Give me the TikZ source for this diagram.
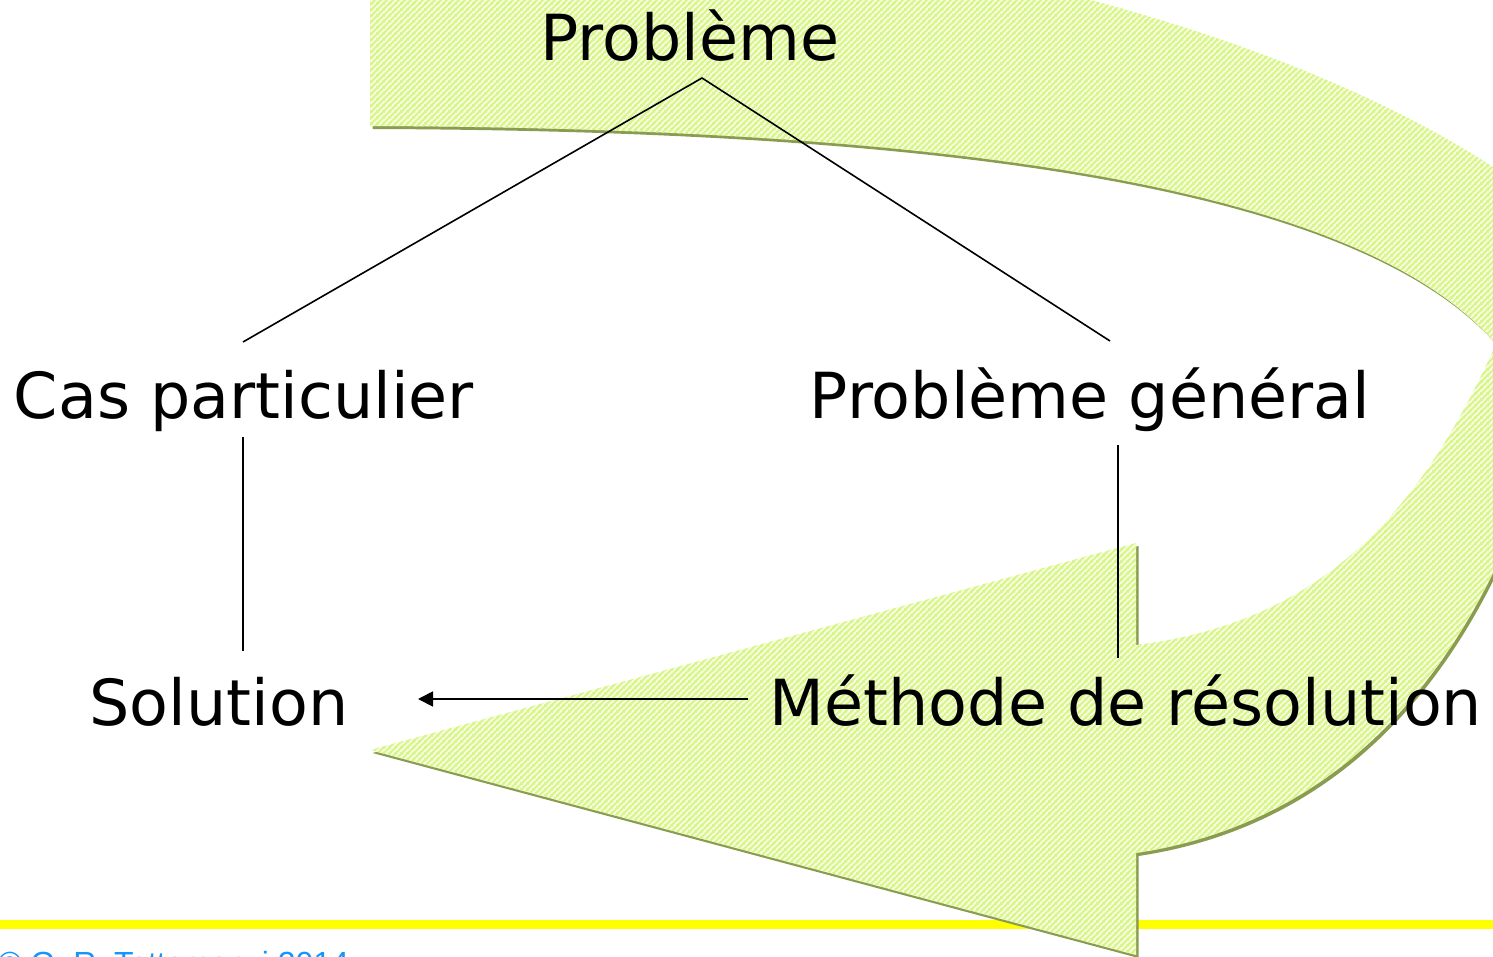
\documentclass[tikz,border=0pt]{standalone}
\usepackage{fontspec}
\setmainfont{DejaVu Sans}
\newfontfamily\copyfont{Liberation Sans}
\usetikzlibrary{patterns.meta,arrows.meta,calc}

\definecolor{stripe}{RGB}{216,245,135}
\definecolor{paleg}{RGB}{248,253,230}
\definecolor{shad}{RGB}{138,156,80}
\definecolor{rulecol}{rgb}{1,1,0}
\definecolor{cblue}{RGB}{20,150,255}

\tikzdeclarepattern{
  name=hatchNE,
  type=uncolored,
  bounding box={(0pt,0pt) and (6pt,6pt)},
  tile size={(6pt,6pt)},
  code={
    \draw[line width=2.1pt] (-1pt,-1pt) -- (7pt,7pt);
    \draw[line width=2.1pt] (-1pt,5pt) -- (1pt,7pt);
    \draw[line width=2.1pt] (5pt,-1pt) -- (7pt,1pt);
  }
}

\tikzset{
  lbl/.style={font=\fontsize{63.5}{76}\selectfont, inner sep=0pt, text=black},
  conn/.style={draw=black, line width=1.6pt},
  cpy/.style={font=\copyfont\fontsize{32}{38}\selectfont, inner sep=0pt, text=cblue},
}

\begin{document}
\begin{tikzpicture}[x=1pt,y=-1pt]
\useasboundingbox (0,0) rectangle (1493,957);
\clip (0,0) rectangle (1493,957);

% yellow rule
\path[fill=rulecol] (0,920) rectangle (1493,929);

% shadow of the curved arrow
\fill[shad, shift={(2.5,3)}]
  (370,-95) -- (370,126)
  .. controls (950,128) and (1360,185) .. (1496,344)
  .. controls (1428.5,494) and (1336,621) .. (1136,645)
  -- (1136,543) -- (370,750) -- (1136,955) -- (1136,853)
  .. controls (1336,823) and (1439,683) .. (1493,573)
  .. controls (1559,438) and (1619,249) .. (1493,167)
  .. controls (1193,-28) and (670,-95) .. (370,-95) -- cycle;

% curved arrow
\fill[paleg, postaction={pattern=hatchNE, pattern color=stripe}]
  (370,-95) -- (370,126)
  .. controls (950,128) and (1360,185) .. (1496,344)
  .. controls (1428.5,494) and (1336,621) .. (1136,645)
  -- (1136,543) -- (370,750) -- (1136,955) -- (1136,853)
  .. controls (1336,823) and (1439,683) .. (1493,573)
  .. controls (1559,438) and (1619,249) .. (1493,167)
  .. controls (1193,-28) and (670,-95) .. (370,-95) -- cycle;

% texts
\node[lbl, anchor=base] (prob) at (690,61) {Problème};
\node[lbl, anchor=base] (cas)  at (244,418) {Cas particulier};
\node[lbl, anchor=base] (gen)  at (1090,418) {Problème général};
\node[lbl, anchor=base] (sol)  at (219,725) {Solution};
\node[lbl, anchor=base] (meth) at (1126,725) {Méthode de résolution};
\node[cpy, anchor=base west] (copy) at (-2,974) {© G. R. Tattamanzi 2014};

% connector end points
\coordinate (probS) at (702,78);
\coordinate (casN)  at (243,342);
\coordinate (casS)  at (243,437);
\coordinate (genN)  at (1110,341);
\coordinate (genS)  at (1118,445);
\coordinate (solN)  at (243,651);
\coordinate (solE)  at (418,699);
\coordinate (methN) at (1118,658);
\coordinate (methW) at (748,699);

% connectors
\draw[conn] (casN) -- (probS) -- (genN);
\draw[conn] (casS) -- (solN);
\draw[conn] (genS) -- (methN);
\draw[conn, line width=1.8pt, -{Triangle[length=15pt,width=15pt]}] (methW) -- (solE);
\end{tikzpicture}
\end{document}
